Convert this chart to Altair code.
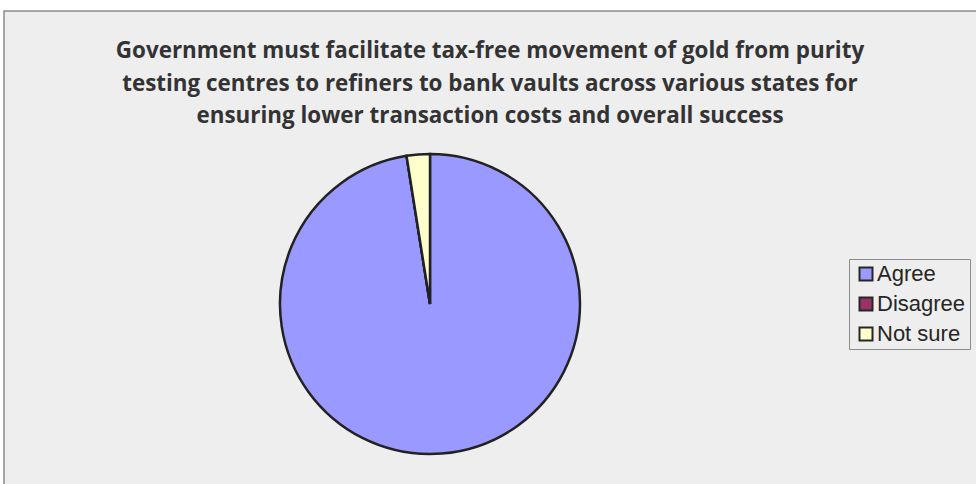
import altair as alt
import pandas as pd

categories = ["Agree", "Disagree", "Not sure"]
values = [97.5, 0.0, 2.5]
colors = ["#9999FF", "#993366", "#FFFFCC"]
title_lines = [
    "Government must facilitate tax-free movement of gold from purity",
    "testing centres to refiners to bank vaults across various states for",
    "ensuring lower transaction costs and overall success",
]

df = pd.DataFrame({"category": categories, "value": values, "order": list(range(len(categories)))})

frame = alt.Chart(pd.DataFrame({"k": [0]})).mark_rect(
    fill="#eeeeee", stroke="#8c8c8c", strokeWidth=1.5
).encode(
    x=alt.value(4), x2=alt.value(990), y=alt.value(11), y2=alt.value(500)
)

title = alt.Chart(pd.DataFrame({"k": [0]})).mark_text(
    font="Open Sans", fontWeight="bold", fontSize=22.4, color="#333333",
    align="center", baseline="alphabetic", lineHeight=32.5
).encode(
    x=alt.value(490), y=alt.value(58), text=alt.value(title_lines)
)

pie = alt.Chart(df).mark_arc(
    radius=150, stroke="#222222", strokeWidth=2.5
).encode(
    theta=alt.Theta("value:Q", stack=True),
    order=alt.Order("order:Q"),
    color=alt.Color(
        "category:N",
        scale=alt.Scale(domain=categories, range=colors),
        legend=alt.Legend(
            title=None, orient="none", legendX=849, legendY=259,
            padding=4, symbolOffset=2, symbolType="square", symbolSize=169,
            symbolStrokeColor="#262626", symbolStrokeWidth=2,
            labelFont="Liberation Sans", labelFontSize=22, labelColor="#262626",
            labelOffset=0, rowPadding=8, strokeColor="#8c8c8c", fillColor="#eeeeee",
        ),
    ),
    x=alt.value(430), y=alt.value(304),
)

chart = alt.layer(frame, pie, title).properties(
    width=976, height=484, padding=0, autosize=alt.AutoSizeParams(type="none"),
    background="white"
).configure_view(stroke=None)

chart.save("out.html", embed_options={"renderer": "svg", "actions": False})
